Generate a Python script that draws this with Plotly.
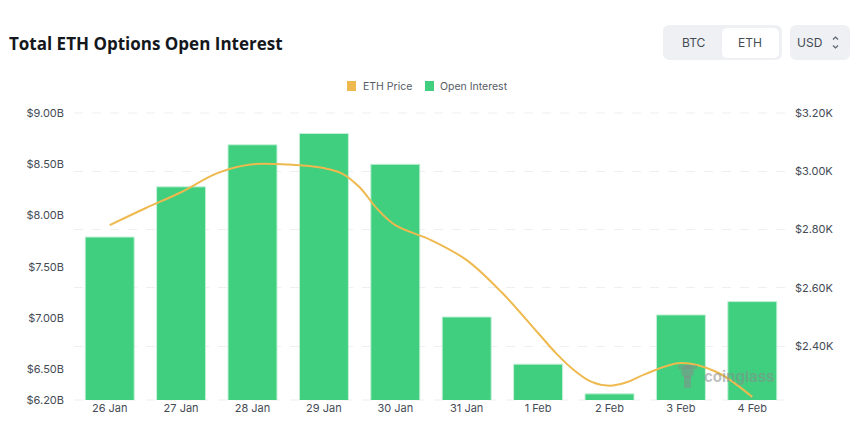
import plotly.graph_objects as go

# data
days = ["2025-01-26", "2025-01-27", "2025-01-28", "2025-01-29", "2025-01-30",
        "2025-01-31", "2025-02-01", "2025-02-02", "2025-02-03", "2025-02-04"]
day_labels = ["26 Jan", "27 Jan", "28 Jan", "29 Jan", "30 Jan",
              "31 Jan", "1 Feb", "2 Feb", "3 Feb", "4 Feb"]
open_interest = [7.79, 8.28, 8.69, 8.80, 8.50, 7.01, 6.55, 6.26, 7.03, 7.16]

price_times = ["2025-01-26 00:00", "2025-01-26 12:00", "2025-01-27 00:00", "2025-01-27 12:00",
               "2025-01-28 00:00", "2025-01-28 12:00", "2025-01-29 00:00", "2025-01-29 06:00",
               "2025-01-29 12:00", "2025-01-29 18:00", "2025-01-30 00:00", "2025-01-30 12:00",
               "2025-01-31 00:00", "2025-01-31 12:00", "2025-02-01 00:00", "2025-02-01 06:00",
               "2025-02-01 12:00", "2025-02-01 18:00", "2025-02-02 00:00", "2025-02-02 06:00",
               "2025-02-02 12:00", "2025-02-03 00:00", "2025-02-03 12:00", "2025-02-04 00:00"]
eth_price = [2.815, 2.873, 2.928, 2.993, 3.024, 3.023, 3.011, 2.993, 2.945, 2.870, 2.815,
             2.764, 2.695, 2.582, 2.445, 2.376, 2.318, 2.277, 2.264, 2.277, 2.304, 2.342,
             2.311, 2.225]

left_ticks = [6.2, 6.5, 7.0, 7.5, 8.0, 8.5, 9.0]
left_labels = ["$6.20B", "$6.50B", "$7.00B", "$7.50B", "$8.00B", "$8.50B", "$9.00B"]
right_ticks = [2.4, 2.6, 2.8, 3.0, 3.2]
right_labels = ["$2.40K", "$2.60K", "$2.80K", "$3.00K", "$3.20K"]

GREEN = "#3fcf7f"
ORANGE = "#eeb94f"
TEXT = "#444b55"
GRID = "#eeeff1"

# page pixel size and plot box
W, H = 860, 423
LEFT, RIGHT, TOP, BOTTOM = 74, 788, 113, 400


def px(x):
    return (x - LEFT) / (RIGHT - LEFT)


def py(y):
    return (BOTTOM - y) / (BOTTOM - TOP)


def round_box(x0, y0, x1, y1, r, fill):
    # rounded rectangle in page pixels
    path = (f"M {px(x0 + r)} {py(y0)} L {px(x1 - r)} {py(y0)} "
            f"Q {px(x1)} {py(y0)} {px(x1)} {py(y0 + r)} L {px(x1)} {py(y1 - r)} "
            f"Q {px(x1)} {py(y1)} {px(x1 - r)} {py(y1)} L {px(x0 + r)} {py(y1)} "
            f"Q {px(x0)} {py(y1)} {px(x0)} {py(y1 - r)} L {px(x0)} {py(y0 + r)} "
            f"Q {px(x0)} {py(y0)} {px(x0 + r)} {py(y0)} Z")
    return dict(type="path", xref="paper", yref="paper", path=path, fillcolor=fill,
                line=dict(width=0), layer="above")


def polyline(points, color, width=1.2):
    path = "M " + " L ".join(f"{px(x)} {py(y)}" for x, y in points)
    return dict(type="path", xref="paper", yref="paper", path=path,
                line=dict(color=color, width=width), layer="above")


def box(x0, y0, x1, y1, color, kind="rect"):
    return dict(type=kind, xref="paper", yref="paper", x0=px(x0), x1=px(x1), y0=py(y1), y1=py(y0),
                fillcolor=color, line=dict(width=0), layer="above")


def edge_grid(y):
    # plotly leaves out gridlines that sit on the axis ends
    return dict(type="line", xref="paper", yref="paper", x0=0, x1=1, y0=py(y), y1=py(y),
                line=dict(color=GRID, width=1, dash="dash"), layer="below")


def label(text, x, y, size=12, color=TEXT, family="Inter", anchor="center"):
    return dict(text=text, x=px(x), y=py(y), xref="paper", yref="paper", showarrow=False,
                xanchor=anchor, yanchor="middle", font=dict(size=size, color=color, family=family))


fig = go.Figure()

fig.add_trace(go.Bar(x=days, y=open_interest, name="Open Interest", width=59300000,
                     marker=dict(color=GREEN, line=dict(color="#c5f0d8", width=1)),
                     yaxis="y", showlegend=False))
fig.add_trace(go.Scatter(x=price_times, y=eth_price, name="ETH Price", mode="lines",
                         line=dict(color=ORANGE, width=2, shape="spline", smoothing=1),
                         yaxis="y2", showlegend=False))

shapes = [
    edge_grid(TOP),
    edge_grid(BOTTOM),
    # legend swatches
    box(347, 81, 356, 91, ORANGE),
    box(425, 81, 434, 91, GREEN),
    # BTC/ETH and USD selectors
    round_box(663, 25, 782, 60, 7, "#eef0f3"),
    round_box(722, 28, 779, 58, 6, "#ffffff"),
    round_box(790, 25, 850, 60, 7, "#eef0f3"),
    polyline([(833, 39.5), (835.5, 37), (838, 39.5)], "#5b6470"),
    polyline([(833, 45.5), (835.5, 48), (838, 45.5)], "#5b6470"),
    # watermark mark
    box(681, 365, 694, 378, "rgba(135,140,140,0.55)", "circle"),
    box(684, 376, 691, 388, "rgba(135,140,140,0.55)"),
    box(678, 365, 697, 369, "rgba(135,140,140,0.45)"),
]

annotations = [
    label("<b>Total ETH Options Open Interest</b>", 6.5, 43, size=17, color="#14171c",
          family="Open Sans", anchor="left"),
    label("ETH Price", 360.5, 86, size=10.5, color="#555b64", anchor="left"),
    label("Open Interest", 437.5, 86, size=10.5, color="#555b64", anchor="left"),
    label("BTC", 694, 42),
    label("ETH", 750, 42),
    label("USD", 810, 42),
    label("<b>coinglass</b>", 739, 376, size=15, color="rgba(135,140,140,0.55)"),
]

fig.update_layout(
    width=W, height=H,
    margin=dict(l=LEFT, r=W - RIGHT, t=TOP, b=H - BOTTOM, autoexpand=False),
    paper_bgcolor="white", plot_bgcolor="white",
    font=dict(family="Inter", size=11, color=TEXT),
    shapes=shapes, annotations=annotations, barmode="overlay", showlegend=False,
    xaxis=dict(type="date", range=["2025-01-25 12:00", "2025-02-04 12:00"],
               tickvals=days, ticktext=day_labels, showgrid=False, zeroline=False, showline=False,
               ticks="", tickfont=dict(size=11, color=TEXT)),
    yaxis=dict(range=[6.2, 9.0], tickvals=left_ticks, ticktext=left_labels, showgrid=False,
               zeroline=False, ticks="", ticklabelstandoff=9, tickfont=dict(size=11, color=TEXT)),
    yaxis2=dict(range=[2.215, 3.2], tickvals=right_ticks, ticktext=right_labels, overlaying="y",
                side="right", showgrid=True, gridcolor=GRID, griddash="dash", gridwidth=1,
                zeroline=False, ticks="", ticklabelstandoff=6, tickfont=dict(size=11, color=TEXT)),
)

# the browser's default page margin would push the figure 8px off
fig.write_html("out.html", config={"displayModeBar": False},
               post_script="document.body.style.margin = '0';")
